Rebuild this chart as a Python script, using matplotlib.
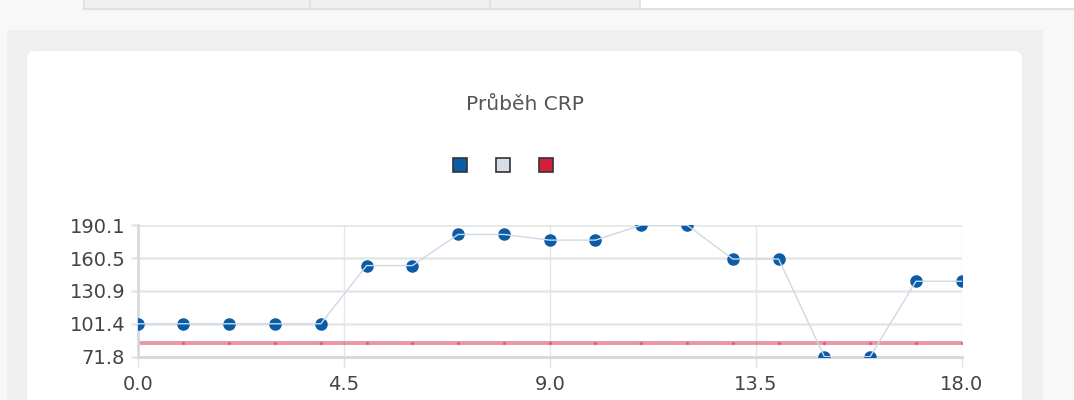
import numpy as np
import matplotlib.pyplot as plt
from matplotlib.patches import Rectangle, FancyBboxPatch
from matplotlib.lines import Line2D

# Daten
den = list(range(19))
crp = [101.4, 101.4, 101.4, 101.4, 101.4, 153.7, 153.7, 181.7, 181.7, 176.6,
       176.6, 190.1, 190.1, 159.6, 159.6, 71.8, 71.8, 139.6, 139.6]
limit = [84.4] * 19
y_min, y_max = 71.8, 190.1
x_ticks = np.linspace(0, 18, 5)
y_ticks = np.linspace(y_min, y_max, 5)

barvy = ['#0a5ca8', '#d4dde8', '#d21f3c']

plt.rcParams['font.family'] = 'DejaVu Sans'

fig = plt.figure(figsize=(10.74, 4.0), dpi=100)

# Pozadi stranky (karta, panel, zalozky)
bg = fig.add_axes([0, 0, 1, 1], zorder=-5)
bg.set_xlim(0, 1074)
bg.set_ylim(400, 0)
bg.axis('off')
bg.add_patch(Rectangle((0, 0), 1074, 400, color='#f8f8f8'))
bg.add_patch(Rectangle((84, 0), 556, 9, facecolor='#f0f0f0', edgecolor='none'))
bg.add_patch(Rectangle((640, 0), 434, 9, facecolor='#ffffff', edgecolor='none'))
bg.plot([84, 1074], [9, 9], color='#e0e0e0', lw=1.5)
for xd in [84, 310, 490, 640]:
    bg.plot([xd, xd], [0, 9], color='#e0e0e0', lw=1.2)
bg.add_patch(Rectangle((7, 30), 1036, 380, facecolor='#efefef', edgecolor='none'))
bg.add_patch(FancyBboxPatch((27, 51), 995, 380, boxstyle='round,pad=0,rounding_size=8',
                            facecolor='white', edgecolor='none'))

# Graf
ax = fig.add_axes([137.7 / 1074, 0.10825, 824 / 1074, 0.329])
ax.set_facecolor('none')
body, = ax.plot(den, crp, linestyle='none', marker='o', markersize=8,
                color=barvy[0], zorder=3)
cara, = ax.plot(den, crp, color='#cdd9e7', lw=1.0, zorder=4)
lim, = ax.plot(den, limit, color='#e0506a', alpha=0.6, lw=2.8, marker='o',
               markersize=1.5, zorder=2)
for ln in (body, cara, lim):
    ln.set_clip_path(ax.patch)

ax.set_xlim(0, 18)
ax.set_ylim(y_min, y_max)
ax.set_xticks(x_ticks)
ax.set_yticks(y_ticks)
ax.set_xticklabels([f'{v:.1f}' for v in x_ticks])
ax.set_yticklabels([f'{v:.1f}' for v in y_ticks])
ax.tick_params(axis='x', direction='out', length=7, width=1, color='#e0e0e0',
               labelsize=14, labelcolor='#444444', pad=6)
ax.tick_params(axis='y', direction='out', length=5, width=1.8, color='#e6e6e6',
               labelsize=14, labelcolor='#444444', pad=4)
ax.grid(axis='y', color='#e6e6e6', lw=1.8)
ax.grid(axis='x', color='#e6e6e6', lw=1.0)
for s in ['top', 'right']:
    ax.spines[s].set_visible(False)
ax.spines['left'].set_color('#d9d9d9')
ax.spines['left'].set_linewidth(2)
ax.spines['bottom'].set_color('#d9d9d9')
ax.spines['bottom'].set_linewidth(2.2)

fig.text(524.5 / 1074, 1 - 105 / 400, 'Průběh CRP', ha='center', va='center',
         fontsize=14.5, color='#555555')

handles = [Line2D([], [], linestyle='none', marker='s', markersize=10,
                  markerfacecolor=c, markeredgecolor='#333333', markeredgewidth=1.2)
           for c in barvy]
fig.legend(handles, ['', '', ''], loc='center', bbox_to_anchor=(503 / 1074, 1 - 166 / 400),
           ncol=3, frameon=False, fontsize=10, handlelength=1, handletextpad=0,
           columnspacing=2.1)

fig.savefig('out.png', dpi=100)
